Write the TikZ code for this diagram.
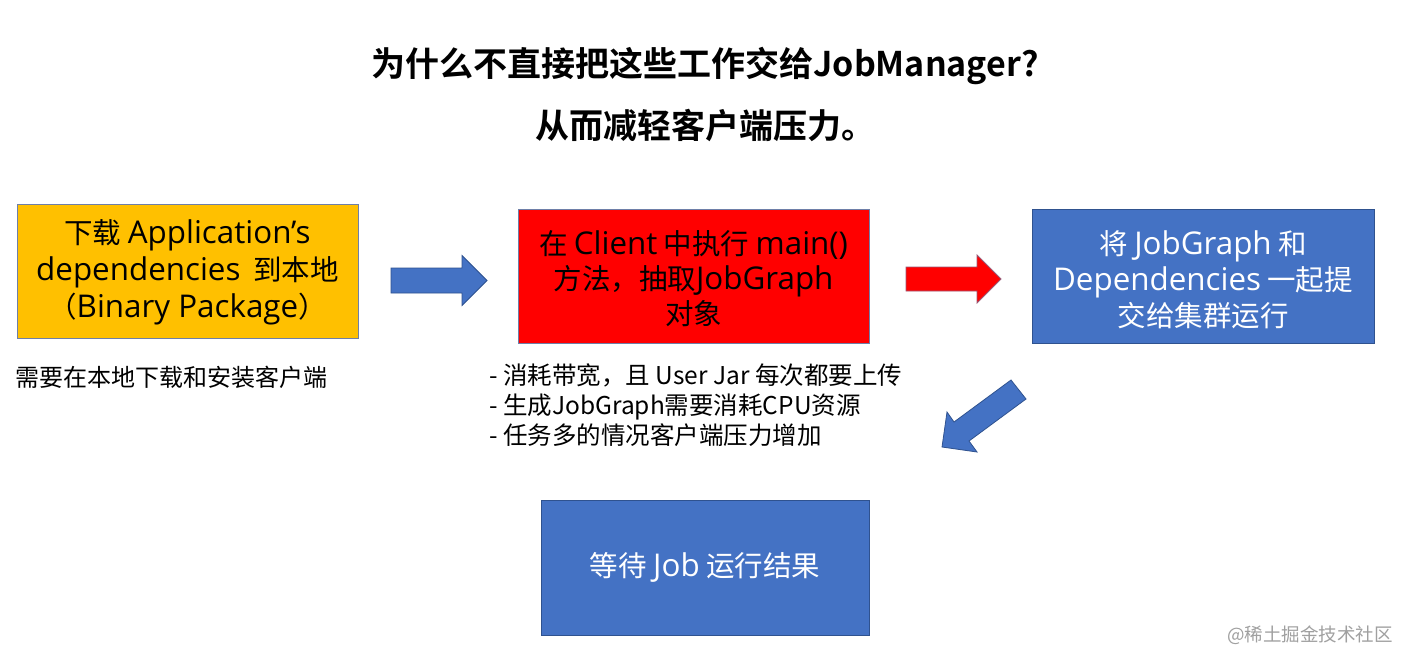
\documentclass[tikz,border=0pt]{standalone}
\usepackage{fontspec}
\setmainfont{Noto Sans CJK SC}[BoldFont={Noto Sans CJK SC Bold}]
\newfontfamily\latfont{Open Sans}[Scale=1.1]
\newcommand\Lt[1]{{\latfont #1}}
\definecolor{boxblue}{HTML}{4472C4}
\definecolor{edgeblue}{HTML}{2F528F}
\definecolor{boxyellow}{HTML}{FFC000}
\definecolor{boxred}{HTML}{FF0000}
\definecolor{edgegray}{HTML}{6E7FA8}
\definecolor{wmgray}{HTML}{A0A0A0}
\tikzset{
  stagebox/.style={draw=edgegray, line width=0.9pt, inner sep=0pt, align=center,
    font=\fontsize{28.5}{36}\selectfont},
  yellowbox/.style={stagebox, fill=boxyellow, text=black},
  redbox/.style={stagebox, fill=boxred, text=black},
  bluebox/.style={stagebox, fill=boxblue, draw=edgeblue, text=white},
  boxlabel/.style={align=center, inner sep=0pt},
  bluearrow/.style={fill=boxblue, draw=edgeblue, line width=0.8pt, line join=miter},
  redarrow/.style={fill=boxred, draw=edgegray!70!red, line width=0.8pt, line join=miter},
  titletext/.style={inner sep=0pt, font=\fontsize{34}{40}\selectfont\bfseries},
  notetext/.style={inner sep=0pt, anchor=west, align=left},
}
\begin{document}
\begin{tikzpicture}[x=1pt,y=-1pt]
\useasboundingbox[fill=white] (0,0) rectangle (1412,664);

% titles
\node[titletext] (t1) at (705,66) {为什么不直接把这些工作交给JobManager?};
\node[titletext] (t2) at (705,125) {从而减轻客户端压力。};

% boxes
\node[yellowbox, minimum width=341pt, minimum height=134pt] (dl) at (187.5,271) {};
\node[boxlabel, font=\fontsize{28.5}{37}\selectfont] (dlt) at (187.5,272)
  {下载 \Lt{Application’s}\\\Lt{dependencies}\ \ 到本地\\（\Lt{Binary Package}）};
\node[redbox, minimum width=351pt, minimum height=134pt] (cl) at (693.5,276.5) {};
\node[boxlabel, font=\fontsize{28.5}{35}\selectfont] (clt) at (693.5,279)
  {在 \Lt{Client} 中执行 \Lt{main()}\\方法，抽取\Lt{JobGraph}\\对象};
\node[bluebox, minimum width=342pt, minimum height=134pt] (sub) at (1203,276.5) {};
\node[boxlabel, text=white, font=\fontsize{28.5}{36}\selectfont] (subt) at (1203,280)
  {将 \Lt{JobGraph} 和\\\Lt{Dependencies} 一起提\\交给集群运行};
\node[bluebox, minimum width=328pt, minimum height=135pt] (wait) at (705,567.5)
  {等待 \Lt{Job} 运行结果};

% notes
\node[notetext, font=\fontsize{24}{30}\selectfont] (n1) at (15,377) {需要在本地下载和安装客户端};
\node[notetext, font=\fontsize{24.5}{30}\selectfont] (n2) at (489,405)
  {- 消耗带宽，且 User Jar 每次都要上传\\- 生成JobGraph需要消耗CPU资源\\- 任务多的情况客户端压力增加};

% block arrows
\draw[bluearrow] (391,268) -- (462,268) -- (462,255.5) -- (487,280.5) -- (462,305.5)
  -- (462,293) -- (391,293) -- cycle;
\draw[redarrow] (906,267) -- (977,267) -- (977,255) -- (1001,279) -- (977,303)
  -- (977,291) -- (906,291) -- cycle;
\draw[bluearrow] (1011,380) -- (1026,399) -- (969,441) -- (977,452) -- (942,447)
  -- (947,412) -- (954,422) -- cycle;

% watermark
\node[inner sep=0pt, anchor=east, text=wmgray, font=\fontsize{18.5}{22}\selectfont] (wm)
  at (1393,635) {@稀土掘金技术社区};
\end{tikzpicture}
\end{document}
